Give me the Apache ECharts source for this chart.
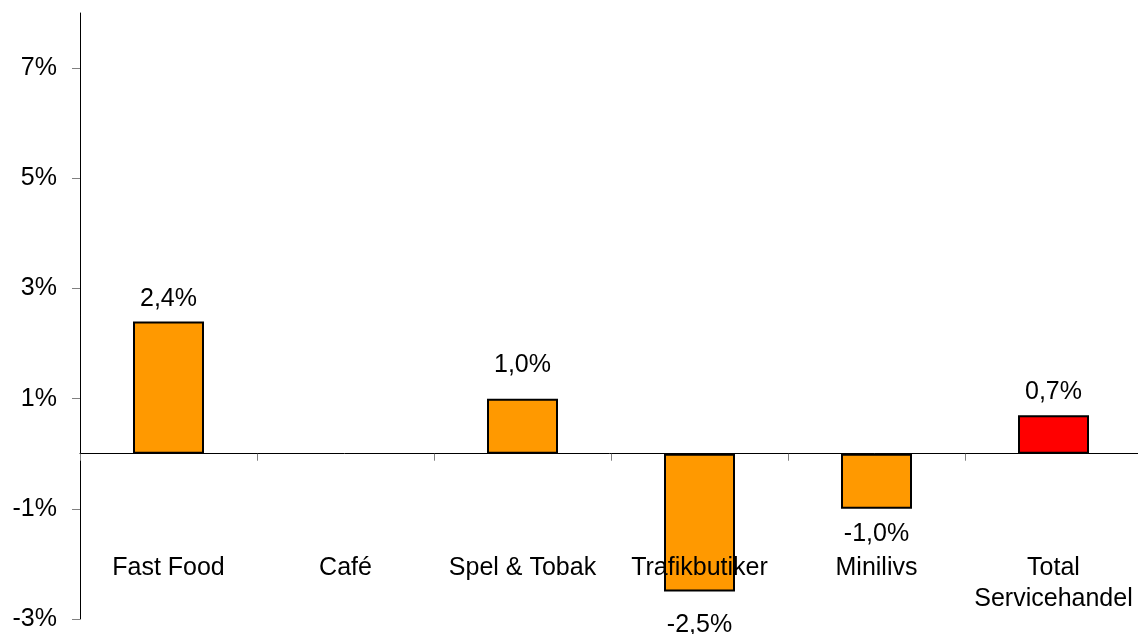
<!DOCTYPE html>
<html>
<head>
<meta charset="utf-8">
<style>html,body{margin:0;padding:0;background:#fff}#c{width:1138px;height:634px}</style>
<script src="https://cdn.jsdelivr.net/npm/echarts@6/dist/echarts.min.js"></script>
</head>
<body>
<div id="c"></div>
<script>
var categories = ['Fast Food', 'Café', 'Spel & Tobak', 'Trafikbutiker', 'Minilivs', 'Total\nServicehandel'];
var values = [2.4, null, 1.0, -2.5, -1.0, 0.7];
var barColors = ['#FF9900', '#FF9900', '#FF9900', '#FF9900', '#FF9900', '#FF0000'];
var labelDistances = [10, 0, 21, 21, 13, 11];
var yTicks = [-3, -1, 1, 3, 5, 7];

var font = 'Liberation Sans, Arial, sans-serif';
var chart = echarts.init(document.getElementById('c'));
chart.setOption({
  animation: false,
  grid: { left: 80, right: -4, top: 13, bottom: 15, containLabel: false, outerBoundsMode: 'none' },
  xAxis: [{
    type: 'category',
    data: categories,
    axisLine: { onZero: true, lineStyle: { color: '#000', width: 1 } },
    axisTick: { show: true, length: 7, lineStyle: { color: '#808080' } },
    axisLabel: { show: false },
    splitLine: { show: false }
  }, {
    type: 'category',
    data: categories,
    position: 'bottom',
    z: 10,
    axisLine: { show: false, onZero: false },
    axisTick: { show: false },
    axisLabel: { show: true, inside: true, verticalAlign: 'top', margin: 66, color: '#000', fontSize: 25,
      fontFamily: font, lineHeight: 31, interval: 0 },
    splitLine: { show: false }
  }],
  yAxis: {
    type: 'value',
    min: -3, max: 8, interval: 2,
    axisLine: { show: true, lineStyle: { color: '#000', width: 1 } },
    axisTick: { show: true, length: 8, lineStyle: { color: '#808080' }, customValues: yTicks },
    axisLabel: { customValues: yTicks, margin: 23, color: '#000', fontSize: 25, fontFamily: font,
      formatter: function (v) { return v + '%'; } },
    splitLine: { show: false }
  },
  series: [{
    type: 'bar',
    barWidth: 71,
    xAxisIndex: 0,
    data: values.map(function (v, i) {
      return {
        value: v,
        itemStyle: { color: barColors[i], borderColor: '#000', borderWidth: 2 },
        label: {
          show: v !== null,
          position: v < 0 ? 'bottom' : 'top',
          distance: labelDistances[i]
        }
      };
    }),
    label: {
      color: '#000', fontSize: 25, fontFamily: font,
      formatter: function (p) { return p.value.toFixed(1).replace('.', ',') + '%'; }
    }
  }]
});
</script>
</body>
</html>
